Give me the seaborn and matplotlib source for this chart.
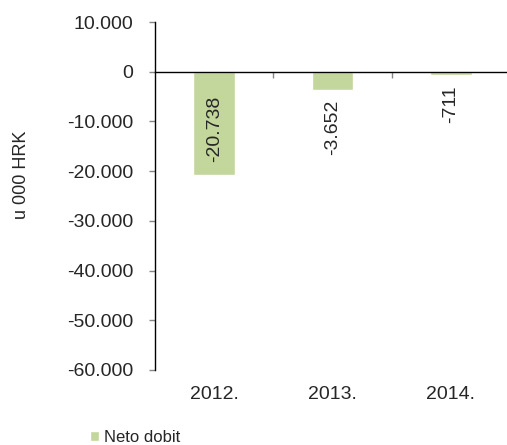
import matplotlib
matplotlib.use('Agg')
import matplotlib.pyplot as plt
import matplotlib.ticker as mticker
import seaborn as sns

# data (u 000 HRK)
years = ['2012.', '2013.', '2014.']
neto_dobit = [-20738, -3652, -711]
series_name = 'Neto dobit'
y_ticks = [10000, 0, -10000, -20000, -30000, -40000, -50000, -60000]

bar_color = '#C3D69B'
tick_color = '#868686'

sns.set_style('white')
plt.rcParams['font.family'] = ['Liberation Sans', 'DejaVu Sans']

W, H = 507, 445
fig = plt.figure(figsize=(W / 100, H / 100), dpi=100)

# axes placed in pixels: y axis at x=155, top at y=22, bottom at y=370
left, right, top, bottom = 155, 510, 22, 370
ax = fig.add_axes([left / W, 1 - bottom / H, (right - left) / W, (bottom - top) / H])

sns.barplot(x=years, y=neto_dobit, color=bar_color, saturation=1,
            width=0.35, label=series_name, ax=ax)
handles, labels = ax.get_legend_handles_labels()
if ax.get_legend() is not None:
    ax.get_legend().remove()

ax.set_xlim(-0.5, len(years) - 0.5)
ax.set_ylim(min(y_ticks), max(y_ticks))
ax.set_yticks(y_ticks)
ax.yaxis.set_major_formatter(
    mticker.FuncFormatter(lambda v, p: f'{v:,.0f}'.replace(',', '.')))

# spines: left axis black, x axis sits on zero
for s in ['top', 'right']:
    ax.spines[s].set_visible(False)
ax.spines['left'].set_color('black')
ax.spines['left'].set_linewidth(1)
ax.spines['bottom'].set_position(('data', 0))
ax.spines['bottom'].set_color('black')
ax.spines['bottom'].set_linewidth(1)

ax.tick_params(axis='y', which='major', left=True, direction='out', length=4.5,
               width=1, color=tick_color, pad=11, labelsize=14)

# x axis: tick marks between categories, labels at the bottom of the plot
ax.set_xticks([])
ax.set_xticks([i + 0.5 for i in range(len(years) - 1)], minor=True)
ax.tick_params(axis='x', which='minor', bottom=True, direction='out', length=4.5,
               width=1, color=tick_color)
ax.set_xlabel('')
ax.set_ylabel('')
for i, yr in enumerate(years):
    ax.text(i, -0.045, yr, transform=ax.get_xaxis_transform(),
            ha='center', va='top', fontsize=14)

# value labels, rotated
for i, v in enumerate(neto_dobit):
    txt = f'{v:,.0f}'.replace(',', '.')
    if abs(v) > 10000:
        ax.annotate(txt, (i, v / 2), xytext=(0, -4), textcoords='offset points',
                    rotation=90, ha='center', va='center', fontsize=14)
    else:
        ax.annotate(txt, (i, v), xytext=(0, -7), textcoords='offset points',
                    rotation=90, ha='center', va='top', fontsize=14)

fig.text(22 / W, 1 - 175 / H, 'u 000 HRK', rotation=90, ha='center', va='center',
         fontsize=13)

fig.legend(handles, labels, loc='center left', bbox_to_anchor=(90 / W, 1 - 437 / H),
           frameon=False, fontsize=12, handlelength=0.55, handleheight=0.55,
           handletextpad=0.3, borderaxespad=0, borderpad=0)

fig.savefig('out.png', dpi=100)
